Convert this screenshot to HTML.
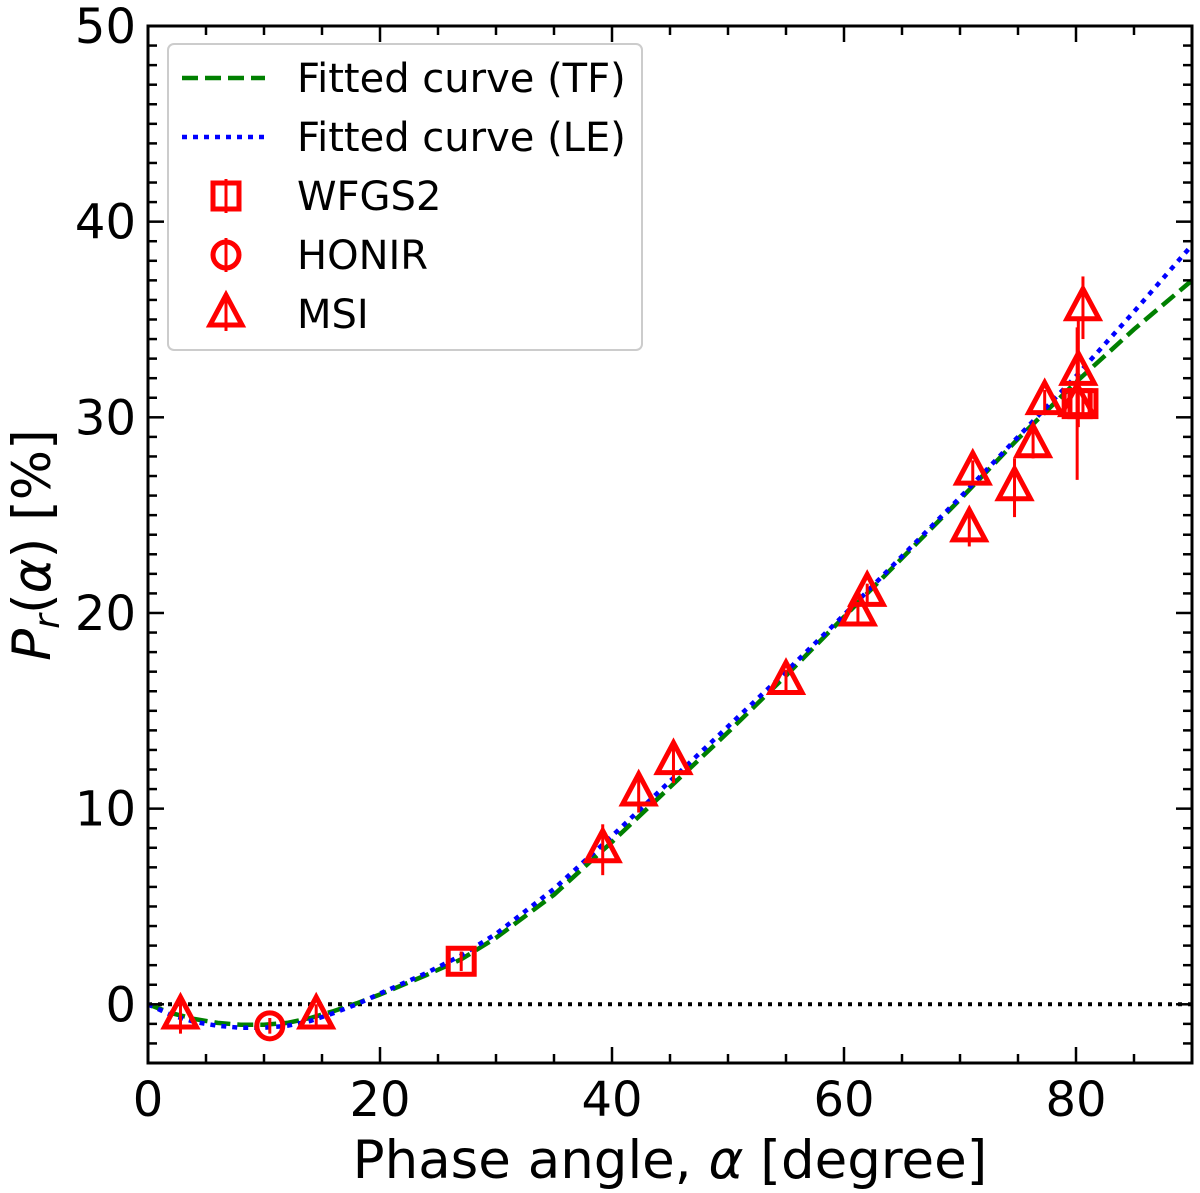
<!DOCTYPE html>
<html><head><meta charset="utf-8"><style>
body{margin:0;background:#fff}
svg{display:block;font-family:"DejaVu Sans","Liberation Sans",sans-serif}
</style></head><body>
<svg id="chart" width="1200" height="1193" viewBox="0 0 1200 1193"></svg>
<script>
const xTicks=[0,20,40,60,80];
const yTicks=[0,10,20,30,40,50];
const curveAlpha=[0,2,4,6,8,10,12,14,16,18,20,24,27,30,35,40,45,50,55,60,65,70,75,80,85,90];
const tfValues=[0,-0.45,-0.75,-0.95,-1.05,-1.05,-0.95,-0.7,-0.35,0.05,0.5,1.5,2.3,3.4,5.6,8.3,11.1,13.9,16.8,19.8,22.8,25.8,28.9,31.8,34.5,37.0];
const leValues=[0,-0.55,-0.9,-1.1,-1.2,-1.2,-1.1,-0.85,-0.45,0,0.55,1.6,2.5,3.6,5.9,8.6,11.4,14.2,17.0,19.9,22.9,25.9,29.0,32.1,35.4,38.8];
const wfgsX=[27,80.1,80.6];
const wfgsY=[2.2,30.7,30.7];
const wfgsErr=[0.5,0.6,0.6];
const honirX=[10.5];
const honirY=[-1.1];
const honirErr=[0.4];
const msiX=[2.8,14.5,39.2,42.3,45.3,55,61.2,62,70.8,71.1,74.7,76.3,77.3,80.1,80.2,80.6];
const msiY=[-0.6,-0.6,7.9,10.8,12.4,16.5,20.0,21.0,24.3,27.2,26.4,28.6,30.8,30.7,32.3,35.6];
const msiErr=[0.9,0.6,1.3,1.0,1.1,0.6,0.5,0.5,0.9,0.6,1.5,0.7,0.6,3.9,2.8,1.6];

const L=148,R=1192,T=26,B=1063,xmax=90,ymin=-3,ymax=50;
const sx=v=>L+v/xmax*(R-L);
const sy=v=>B-(v-ymin)/(ymax-ymin)*(B-T);
const svg=document.getElementById('chart');
const NS='http://www.w3.org/2000/svg';
function mk(tag,attrs,parent){const e=document.createElementNS(NS,tag);for(const k in attrs)e.setAttribute(k,attrs[k]);(parent||svg).appendChild(e);return e;}

let z=mk('line',{x1:L,x2:R,y1:sy(0),y2:sy(0),stroke:'#000','stroke-width':4,'stroke-dasharray':'4,6'});



function curve(xs,ys,color,dash,name){
  const d=xs.map((x,i)=>(i?'L':'M')+sx(x).toFixed(1)+','+sy(ys[i]).toFixed(1)).join('');
  const p=mk('path',{d:d,fill:'none',stroke:color,'stroke-width':4.5,'stroke-dasharray':dash});
  
  
}
curve(curveAlpha,tfValues,'#008000','16,7','tf-curve');
curve(curveAlpha,leValues,'#0000ff','5,6','le-curve');

function marker(g,shape,cx,cy){
  if(shape==='s') mk('rect',{x:cx-13,y:cy-13,width:26,height:26,fill:'none',stroke:'red','stroke-width':5},g);
  else if(shape==='o') mk('circle',{cx:cx,cy:cy,r:13,fill:'none',stroke:'red','stroke-width':5},g);
  else mk('polygon',{points:`${cx},${cy-19} ${cx+16},${cy+11} ${cx-16},${cy+11}`,fill:'none',stroke:'red','stroke-width':5},g);
}
function series(xs,ys,es,shape,name){
  const g=mk('g',{});
  
  
  xs.forEach((x,i)=>{
    const pt=mk('g',{},g);
    
    
    mk('line',{x1:sx(x),x2:sx(x),y1:sy(ys[i]-es[i]),y2:sy(ys[i]+es[i]),stroke:'red','stroke-width':3},pt);
    marker(pt,shape,sx(x),sy(ys[i]));
  });
}
series(msiX,msiY,msiErr,'^','msi-series');
series(wfgsX,wfgsY,wfgsErr,'s','wfgs2-series');
series(honirX,honirY,honirErr,'o','honir-series');

const tk=mk('g',{stroke:'#000','stroke-width':2.5});


for(let v=0;v<=90;v+=5){const maj=v%20===0,len=maj?16:9;
  mk('line',{x1:sx(v),x2:sx(v),y1:B,y2:B-len},tk);mk('line',{x1:sx(v),x2:sx(v),y1:T,y2:T+len},tk);}
for(let v=-3;v<=50;v++){const maj=v%10===0,len=maj?16:9;
  mk('line',{x1:L,x2:L+len,y1:sy(v),y2:sy(v)},tk);mk('line',{x1:R,x2:R-len,y1:sy(v),y2:sy(v)},tk);}
let fr=mk('rect',{x:L,y:T,width:R-L,height:B-T,fill:'none',stroke:'#000','stroke-width':3});



xTicks.forEach(v=>{const t=mk('text',{x:sx(v),y:1116,'font-size':48,'text-anchor':'middle'});t.textContent=v;
  
  });
yTicks.forEach(v=>{const t=mk('text',{x:136,y:sy(v)+17,'font-size':48,'text-anchor':'end'});t.textContent=v;
  
  });

let xl=mk('text',{x:670,y:1178,'font-size':53,'text-anchor':'middle'});
xl.innerHTML='Phase angle, <tspan font-style="italic">α</tspan> [degree]';


let yl=mk('text',{x:0,y:0,'font-size':53,'text-anchor':'middle',transform:'translate(50,545) rotate(-90)'});
yl.innerHTML='<tspan font-style="italic">P</tspan><tspan font-style="italic" font-size="36" dy="9">r</tspan><tspan dy="-9">(</tspan><tspan font-style="italic">α</tspan>) [%]';



const lg=mk('g',{});


mk('rect',{x:168,y:44,width:474,height:306,rx:6,fill:'#fff',stroke:'#ccc','stroke-width':2},lg);
const labels=['Fitted curve (TF)','Fitted curve (LE)','WFGS2','HONIR','MSI'];
labels.forEach((s,i)=>{
  const y=78+i*59;
  const e=mk('g',{},lg);
  
  
  if(i===0) mk('line',{x1:182,x2:265,y1:y,y2:y,stroke:'#008000','stroke-width':4.5,'stroke-dasharray':'16,7'},e);
  else if(i===1) mk('line',{x1:182,x2:265,y1:y,y2:y,stroke:'#0000ff','stroke-width':4.5,'stroke-dasharray':'5,6'},e);
  else {mk('line',{x1:226,x2:226,y1:y-17,y2:y+17,stroke:'red','stroke-width':3},e);marker(e,['s','o','^'][i-2],226,y);}
  const t=mk('text',{x:297,y:y+14,'font-size':40},e);t.textContent=s;
});
</script>
</body></html>
